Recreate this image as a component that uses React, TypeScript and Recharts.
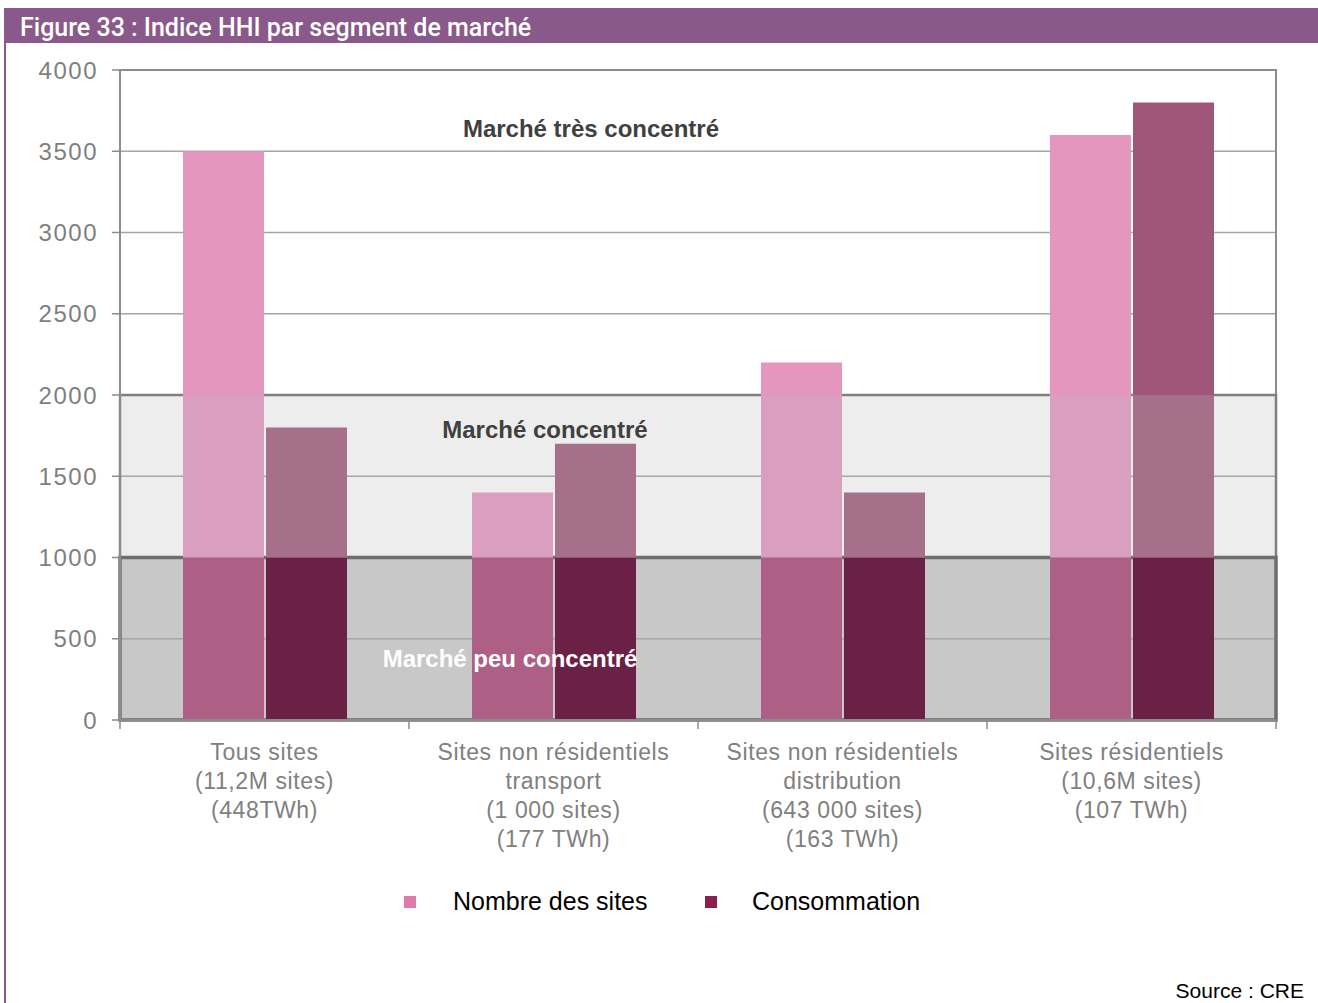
import React from 'react';
import {
  BarChart,
  Bar,
  XAxis,
  YAxis,
  CartesianGrid,
  ReferenceArea,
  ReferenceLine,
} from 'recharts';

const categories = [
  ['Tous sites', '(11,2M sites)', '(448TWh)'],
  ['Sites non résidentiels', 'transport', '(1 000 sites)', '(177 TWh)'],
  ['Sites non résidentiels', 'distribution', '(643 000 sites)', '(163 TWh)'],
  ['Sites résidentiels', '(10,6M sites)', '(107 TWh)'],
];
const nombreSites = [3500, 1400, 2200, 3600];
const consommation = [1800, 1700, 1400, 3800];
const yTicks = [0, 500, 1000, 1500, 2000, 2500, 3000, 3500, 4000];
const lowLimit = 1000;
const highLimit = 2000;

const FONT = '"Liberation Sans", Arial, sans-serif';
const PURPLE = '#88598a';

// split each value into the three market bands so each part gets its band colour
const split = (v: number) => ({
  low: Math.min(v, lowLimit),
  mid: Math.max(0, Math.min(v, highLimit) - lowLimit),
  high: Math.max(0, v - highLimit),
});

const data = categories.map((lines, i) => {
  const n = split(nombreSites[i]);
  const c = split(consommation[i]);
  return {
    name: lines.join('\n'),
    nLow: n.low,
    nMid: n.mid,
    nHigh: n.high,
    cLow: c.low,
    cMid: c.mid,
    cHigh: c.high,
  };
});

const BAND = 289;

const CategoryTick = (props: any) => {
  const { x, y, payload, index } = props;
  const lines: string[] = String(payload.value).split('\n');
  return (
    <g>
      <line x1={x - BAND / 2} y1={y} x2={x - BAND / 2} y2={y + 9} stroke="#8c8c8c" strokeWidth={1.5} />
      {index === categories.length - 1 && (
        <line x1={x + BAND / 2} y1={y} x2={x + BAND / 2} y2={y + 9} stroke="#8c8c8c" strokeWidth={1.5} />
      )}
      <text
        x={x}
        y={y + 40}
        textAnchor="middle"
        fill="#808080"
        fontSize={23}
        letterSpacing={0.6}
        fontFamily={FONT}
      >
        {lines.map((l, i) => (
          <tspan key={i} x={x} dy={i === 0 ? 0 : 29}>
            {l}
          </tspan>
        ))}
      </text>
    </g>
  );
};

const BandLabel = (props: any) => {
  const { viewBox, text, fx, color } = props;
  return (
    <text
      x={viewBox.x + viewBox.width * fx}
      y={viewBox.y}
      textAnchor="middle"
      dominantBaseline="central"
      fill={color}
      fontSize={24}
      fontWeight="bold"
      fontFamily={FONT}
    >
      {text}
    </text>
  );
};

export default function App() {
  return (
    <div style={{ position: 'absolute', left: 0, top: 0, width: 1318, height: 1003, background: '#fff', fontFamily: FONT }}>
      <div style={{ position: 'absolute', left: 4, top: 8, width: 2, height: 995, background: PURPLE }} />
      <div
        style={{
          position: 'absolute',
          left: 5,
          top: 8,
          width: 1313,
          height: 35,
          background: PURPLE,
          color: '#fff',
          fontSize: 25,
          fontWeight: 500,
          lineHeight: '40px',
          paddingLeft: 15,
          boxSizing: 'border-box',
          fontFamily: 'Roboto, sans-serif',
        }}
      >
        Figure 33 : Indice HHI par segment de marché
      </div>

      <div style={{ position: 'absolute', left: 0, top: 0 }}>
        <BarChart
          width={1318}
          height={1003}
          data={data}
          margin={{ top: 70, right: 42, left: 40, bottom: 133 }}
          barSize={81}
          barGap={2}
        >
          <CartesianGrid
            vertical={false}
            stroke="#a6a6a6"
            strokeWidth={1.3}
            horizontalFill={['#ffffff', '#ffffff', '#ffffff', '#ffffff', '#ededed', '#ededed', '#c8c8c8', '#c8c8c8']}
            fillOpacity={1}
          />
          <XAxis
            dataKey="name"
            interval={0}
            height={150}
            tickLine={false}
            tickSize={0}
            tickMargin={0}
            axisLine={{ stroke: '#8c8c8c', strokeWidth: 2 }}
            tick={<CategoryTick />}
          />
          <YAxis
            width={80}
            domain={[0, 4000]}
            ticks={yTicks}
            interval={0}
            tickSize={8}
            tickMargin={14}
            axisLine={{ stroke: '#8c8c8c', strokeWidth: 2 }}
            tickLine={{ stroke: '#8c8c8c', strokeWidth: 1.5 }}
            tick={{ fill: '#7f7f7f', fontSize: 24, fontFamily: FONT, letterSpacing: 1.5 }}
          />
          <Bar dataKey="nLow" stackId="n" fill="#ad5f85" isAnimationActive={false} />
          <Bar dataKey="nMid" stackId="n" fill="#da9ebe" isAnimationActive={false} />
          <Bar dataKey="nHigh" stackId="n" fill="#e496bc" isAnimationActive={false} />
          <Bar dataKey="cLow" stackId="c" fill="#6b2145" isAnimationActive={false} />
          <Bar dataKey="cMid" stackId="c" fill="#a6708b" isAnimationActive={false} />
          <Bar dataKey="cHigh" stackId="c" fill="#a05679" isAnimationActive={false} />

          <ReferenceArea y1={0} y2={4000} fill="none" stroke="#8c8c8c" strokeWidth={2} />
          <ReferenceArea y1={lowLimit} y2={highLimit} fill="none" stroke="#7f7f7f" strokeWidth={2.5} />
          <ReferenceArea y1={0} y2={lowLimit} fill="none" stroke="#6e6e6e" strokeWidth={3.5} />

          <ReferenceLine
            y={3640}
            stroke="none"
            label={<BandLabel text="Marché très concentré" fx={0.4074} color="#404040" />}
          />
          <ReferenceLine
            y={1790}
            stroke="none"
            label={<BandLabel text="Marché concentré" fx={0.3676} color="#404040" />}
          />
          <ReferenceLine
            y={380}
            stroke="none"
            label={<BandLabel text="Marché peu concentré" fx={0.3374} color="#ffffff" />}
          />
        </BarChart>
      </div>

      <div style={{ position: 'absolute', left: 404, top: 896, width: 12, height: 12, background: '#e07aaa' }} />
      <div style={{ position: 'absolute', left: 453, top: 886, fontSize: 25, lineHeight: '30px', color: '#000' }}>
        Nombre des sites
      </div>
      <div style={{ position: 'absolute', left: 705, top: 896, width: 12, height: 12, background: '#8a2050' }} />
      <div style={{ position: 'absolute', left: 752, top: 886, fontSize: 25, lineHeight: '30px', color: '#000' }}>
        Consommation
      </div>

      <div style={{ position: 'absolute', right: 14, top: 977, fontSize: 21, lineHeight: '28px', color: '#000' }}>
        Source : CRE
      </div>
    </div>
  );
}
